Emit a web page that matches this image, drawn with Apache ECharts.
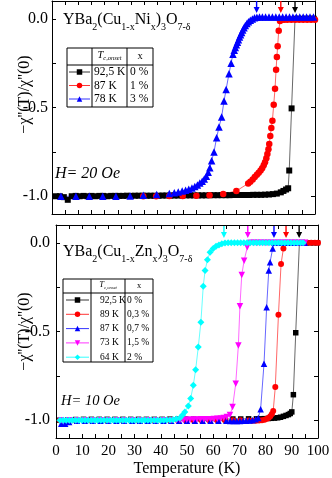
<!DOCTYPE html>
<html>
<head>
<meta charset="utf-8">
<script src="https://cdn.jsdelivr.net/npm/echarts@6/dist/echarts.min.js"></script>
<style>
  html, body { margin: 0; padding: 0; background: #fff; }
  #chart { width: 332px; height: 478px; }
</style>
</head>
<body>
<div id="chart"></div>
<script>
// ---- data: YBa2(Cu1-xNix)3O7-d, H = 20 Oe ----
var niPure = [[1.5,-1.0],[3,-1.0],[4.5,-1.005],[6,-1.02],[7.5,-1.0],[9,-0.998],[10.5,-1.0],[12,-0.998],[13.5,-1.0],
  [15,-0.998],[16.5,-1.0],[18,-0.998],[19.5,-0.998],[21,-1.0],[22.5,-0.998],[24,-0.998],[25.5,-0.998],[27,-0.998],
  [28.5,-0.997],[30,-0.998],[31.5,-0.997],[33,-0.997],[34.5,-0.997],[36,-0.997],[37.5,-0.997],[39,-0.997],[40.5,-0.997],
  [42,-0.996],[43.5,-0.996],[45,-0.996],[46.5,-0.996],[48,-0.996],[49.5,-0.995],[51,-0.995],[52.5,-0.995],[54,-0.995],
  [55.5,-0.995],[57,-0.995],[58.5,-0.995],[60,-0.994],[61.5,-0.994],[63,-0.994],[64.5,-0.994],[66,-0.994],[67.5,-0.994],
  [69,-0.993],[70.5,-0.993],[72,-0.993],[73.5,-0.993],[75,-0.993],[76.5,-0.992],[78,-0.992],[79.5,-0.992],[81,-0.991],
  [82.5,-0.99],[84,-0.988],[85.5,-0.985],[87,-0.978],[88,-0.97],[89,-0.962],[89.8,-0.955],[90.2,-0.855],[91.1,-0.505],
  [92.4,0.0],[93.5,0.0],[95,0.0],[96.5,0.0],[98,0.0],[99.5,0.0]];
var niOne = [[34.7,-1.0],[39.6,-1.0],[44.6,-0.999],[49.7,-0.998],[54.9,-0.997],[59.9,-0.995],[65.1,-0.988],[70.1,-0.97],
  [74.6,-0.928],[75.4,-0.918],[76.3,-0.905],[77.1,-0.892],[77.9,-0.879],[78.6,-0.867],[79.3,-0.855],[79.9,-0.842],
  [80.5,-0.826],[81,-0.808],[81.5,-0.786],[81.9,-0.762],[82.3,-0.735],[82.6,-0.705],[83,-0.66],[83.4,-0.615],
  [83.8,-0.574],[84.3,-0.484],[84.8,-0.394],[85.2,-0.288],[85.5,-0.215],[85.8,-0.155],[86.2,-0.068],[86.7,-0.012],
  [87.4,-0.005],[88.3,-0.005],[89.5,-0.005],[91,-0.005],[92.5,-0.005],[94,-0.005],[95.5,-0.005],[97,-0.005],
  [98.5,-0.005],[100,-0.005]];
var niThree = [[3.4,-1.0],[9.1,-1.0],[14.2,-1.0],[19.3,-1.0],[24.3,-1.0],[29.7,-0.998],[34.7,-0.995],[39.8,-0.99],
  [44.6,-0.985],[46.5,-0.98],[48,-0.976],[49.5,-0.97],[50.8,-0.966],[52,-0.96],[53.2,-0.953],[54.3,-0.945],[55.3,-0.936],
  [56.2,-0.926],[57.1,-0.915],[57.9,-0.903],[58.7,-0.888],[59.4,-0.865],[60,-0.84],[60.7,-0.8],[61.6,-0.75],[62.6,-0.67],
  [63.5,-0.61],[64.5,-0.553],[65.4,-0.464],[66.2,-0.398],[67.3,-0.31],[68.1,-0.25],[68.8,-0.2],[69.3,-0.178],
  [69.7,-0.162],[70.1,-0.146],[70.5,-0.132],[70.9,-0.118],[71.3,-0.103],[71.7,-0.09],[72.1,-0.077],[72.5,-0.064],
  [73,-0.05],[73.5,-0.038],[74.1,-0.027],[74.7,-0.017],[75.4,-0.008],[76.2,-0.001],[77,0.005],[77.9,0.009],[78.9,0.01],
  [80,0.01],[81.2,0.01],[82.5,0.01],[83.8,0.01],[85.1,0.01],[86.4,0.01],[87.7,0.01],[89,0.01],[90.3,0.01],[91.6,0.01],
  [92.9,0.01],[94.2,0.01],[95.5,0.01],[96.8,0.01],[98.1,0.01],[99.4,0.01]];
var niArrowT = [92.4, 87, 77.8];
var niLegendTc = ['92,5 K', '87 K', '78 K'];
var niLegendX = ['0 %', '1 %', '3 %'];

// ---- data: YBa2(Cu1-xZnx)3O7-d, H = 10 Oe ----
var znPure = [[1.5,-1.0],[4.5,-0.998],[7.5,-0.996],[10.5,-0.995],[13.5,-0.995],[16.5,-0.995],[19.5,-0.995],[22.5,-0.995],
  [25.5,-0.995],[28.5,-0.995],[31.5,-0.995],[34.5,-0.995],[37.5,-0.995],[40.5,-0.995],[43.5,-0.994],[46.5,-0.994],
  [49.5,-0.994],[52.5,-0.994],[55.5,-0.994],[58.5,-0.994],[61.5,-0.993],[64.5,-0.993],[67.5,-0.993],[70.5,-0.993],
  [73.5,-0.992],[76.5,-0.992],[78,-0.992],[79.5,-0.991],[81,-0.99],[82.2,-0.989],[83.4,-0.988],[84.6,-0.986],
  [85.7,-0.983],[86.8,-0.978],[87.8,-0.973],[88.7,-0.968],[89.4,-0.962],[90,-0.953],[90.6,-0.856],[91.5,-0.507],
  [92.9,0.0],[94.2,0.0],[95.6,0.0],[97,0.0],[98.4,0.0],[99.8,0.0]];
var znPt3 = [[1.5,-1.0],[4.5,-1.0],[7.5,-1.0],[10.5,-1.0],[13.5,-1.0],[16.5,-1.0],[19.5,-1.0],[22.5,-1.0],[25.5,-1.0],
  [28.5,-1.0],[31.5,-1.0],[34.5,-1.0],[37.5,-1.0],[40.5,-1.0],[43.5,-1.0],[46.5,-1.0],[49.5,-1.0],[52.5,-1.0],
  [55.5,-1.0],[58.5,-1.0],[61.5,-1.0],[64.5,-1.0],[67.5,-1.0],[70.5,-1.0],[73.5,-1.002],[75,-1.003],[76.3,-1.003],
  [77.5,-1.002],[78.6,-1.0],[79.6,-0.997],[80.5,-0.992],[81.2,-0.986],[81.8,-0.978],[82.4,-0.965],[82.9,-0.948],
  [83.7,-0.813],[84.9,-0.406],[85.9,-0.12],[86.8,-0.032],[87.7,0.0],[89,0.0],[90.4,0.0],[91.8,0.0],[93.2,0.0],
  [94.6,0.0],[96,0.0],[97.4,0.0],[98.8,0.0],[100,0.0]];
var znPt7 = [[2,-1.02],[3.5,-1.02],[5,-1.01],[8,-1.003],[11,-1.003],[14,-1.003],[17,-1.003],[20,-1.003],[23,-1.003],
  [26,-1.003],[29,-1.003],[32,-1.003],[35,-1.003],[38,-1.003],[41,-1.003],[44,-1.003],[47,-1.003],[50,-1.003],
  [53,-1.003],[56,-1.003],[59,-1.003],[62,-1.003],[65,-1.003],[66.5,-1.004],[67.8,-1.004],[69,-1.004],[70.2,-1.004],
  [71.4,-1.003],[72.6,-1.003],[73.8,-1.002],[75,-1.0],[76.2,-0.995],[77.2,-0.987],[78.1,-0.938],[79.4,-0.681],
  [80.4,-0.363],[81.2,-0.157],[81.7,-0.11],[82.7,-0.032],[83.2,0.0],[84.5,0.0],[85.8,0.0],[87.1,0.0],[88.4,0.0],
  [89.7,0.0],[91,0.0],[92.3,0.0],[93.6,0.0],[94.9,0.0]];
var znOnePt5 = [[2,-1.0],[5,-1.0],[8,-1.0],[11,-1.0],[14,-1.0],[17,-1.0],[20,-1.0],[23,-1.0],[26,-1.0],[29,-1.0],
  [32,-1.0],[35,-1.0],[38,-1.0],[41,-1.0],[44,-1.0],[46,-1.0],[47.3,-0.998],[48.6,-0.998],[49.9,-0.997],[51.2,-0.997],
  [52.5,-0.996],[53.8,-0.996],[55.1,-0.995],[56.4,-0.995],[57.7,-0.994],[59,-0.994],[60.3,-0.993],[61.6,-0.992],
  [62.8,-0.99],[64,-0.988],[65.2,-0.982],[66.4,-0.97],[67.4,-0.925],[68.6,-0.794],[69.6,-0.579],[70.2,-0.358],
  [70.9,-0.181],[71.8,-0.101],[73,-0.026],[74.3,0.0],[75.6,0.0],[76.9,0.0],[78.2,0.0],[79.5,0.0],[80.8,0.0],
  [82.1,0.0],[83.4,0.0],[84.7,0.0],[86,0.0],[87.3,0.0],[88.6,0.0],[89.9,0.0],[91.2,0.0],[92.5,0.0],[93.8,0.0],[95,0.0]];
var znTwo = [[1.5,-1.0],[2.7,-1.0],[3.9,-1.0],[5.1,-1.0],[6.3,-1.0],[7.5,-1.0],[8.7,-1.0],[9.9,-1.0],[11.1,-1.0],
  [12.3,-1.0],[13.5,-1.0],[14.7,-1.0],[15.9,-1.0],[17.1,-1.0],[18.3,-1.0],[19.5,-1.0],[20.7,-1.0],[21.9,-1.0],
  [23.1,-1.0],[24.3,-1.0],[25.5,-1.0],[26.7,-1.0],[27.9,-1.0],[29.1,-1.0],[30.3,-1.0],[31.5,-1.0],[32.7,-1.0],
  [33.9,-1.0],[35.1,-1.0],[36.3,-1.0],[37.5,-1.0],[38.7,-1.0],[39.9,-1.0],[41.1,-1.0],[42.3,-0.999],[43.5,-0.998],
  [44.7,-0.997],[45.9,-0.993],[47.3,-0.987],[48.3,-0.97],[49.2,-0.953],[50.5,-0.92],[51.4,-0.878],[52.4,-0.803],
  [53.3,-0.715],[54.3,-0.588],[55.3,-0.448],[56.2,-0.245],[56.9,-0.157],[57.8,-0.096],[58.8,-0.054],[60,-0.032],
  [61.1,-0.02],[62.2,-0.012],[63.3,-0.006],[64.5,-0.002],[65.7,0.0],[66.9,0.0],[68.1,0.0],[69.3,0.0],[70.5,0.0],
  [71.7,0.0],[72.9,0.0],[74.1,0.0],[75.3,0.0],[76.5,0.0],[77.7,0.0],[78.9,0.0],[80.1,0.0],[81.3,0.0],[82.5,0.0],
  [83.7,0.0],[84.9,0.0],[86.1,0.0],[87.3,0.0],[88.5,0.0],[89.7,0.0],[90.9,0.0],[92.1,0.0],[93.3,0.0],[94.3,0.0]];
var znArrowT = [92.8, 87.8, 83.2, 73.2, 64.1];
var znLegendTc = ['92,5 K', '89 K', '87 K', '73 K', '64 K'];
var znLegendX = ['0 %', '0,3 %', '0,7 %', '1,5 %', '2 %'];

// ---- axis ticks ----
var xLabelVals = [0, 10, 20, 30, 40, 50, 60, 70, 80, 90, 100];
var xTickVals = [0, 5, 10, 15, 20, 25, 30, 35, 40, 45, 50, 55, 60, 65, 70, 75, 80, 85, 90, 95, 100];
var yLabelVals = [-1.0, -0.5, 0.0];
var yTickVals = [-1.0, -0.75, -0.5, -0.25, 0.0];

var FONT = 'Liberation Serif';
var ARROW = 'path://M2.3,0 L3.7,0 L3.7,6 L6,6 L3,12 L0,6 L2.3,6 Z';
var YNAME = '\u2212\u03c7\'\'(T)/\u03c7\'\'(0)';

function xAxisPair(g, withLabels) {
  var base = {
    gridIndex: g, type: 'value', min: 0, max: 100,
    axisLine: { show: true, onZero: false, lineStyle: { color: '#000', width: 1 } },
    axisTick: { show: true, inside: true, length: 4, customValues: xTickVals, lineStyle: { color: '#000' } },
    splitLine: { show: false }
  };
  var bottom = Object.assign({}, base, {
    position: 'bottom',
    axisLabel: { show: withLabels, customValues: xLabelVals, margin: 6, color: '#000', fontFamily: FONT, fontSize: 15 },
    name: withLabels ? 'Temperature (K)' : '',
    nameLocation: 'middle', nameGap: 23, nameMoveOverlap: false,
    nameTextStyle: { color: '#000', fontFamily: FONT, fontSize: 16 }
  });
  var top = Object.assign({}, base, { position: 'top', axisLabel: { show: false } });
  return [bottom, top];
}

function yAxisPair(g, labelMargin, nameGap, namePad) {
  var base = {
    gridIndex: g, type: 'value', min: -1.1, max: 0.1,
    axisLine: { show: true, onZero: false, lineStyle: { color: '#000', width: 1 } },
    axisTick: { show: true, inside: true, length: 4, customValues: yTickVals, lineStyle: { color: '#000' } },
    splitLine: { show: false }
  };
  var left = Object.assign({}, base, {
    position: 'left',
    axisLabel: {
      customValues: yLabelVals, margin: labelMargin, color: '#000', fontFamily: FONT, fontSize: 16,
      formatter: function (v) { return v.toFixed(1); }
    },
    name: YNAME, nameLocation: 'middle', nameGap: nameGap, nameMoveOverlap: false,
    nameTextStyle: { color: '#000', fontFamily: FONT, fontSize: 16, padding: namePad }
  });
  var right = Object.assign({}, base, { position: 'right', axisLabel: { show: false } });
  return [left, right];
}

function curve(name, pts, color, symbol, size, rotate, axisIdx, arrowT, arrowY) {
  return {
    name: name, type: 'line', xAxisIndex: axisIdx, yAxisIndex: axisIdx,
    data: pts, symbol: symbol, symbolSize: size, symbolRotate: rotate, showAllSymbol: true,
    itemStyle: { color: color }, lineStyle: { color: color, width: 0.6 },
    markPoint: {
      symbol: ARROW, symbolSize: [6, 12], silent: true, animation: false,
      label: { show: false }, itemStyle: { color: color },
      data: [{ coord: [arrowT, arrowY] }]
    }
  };
}

// legend table marks
function mark(kind, cx, cy, s, color) {
  var h = s / 2;
  if (kind === 'rect') return { type: 'rect', shape: { x: cx - h, y: cy - h, width: s, height: s }, style: { fill: color } };
  if (kind === 'circle') return { type: 'circle', shape: { cx: cx, cy: cy, r: h }, style: { fill: color } };
  var pts;
  if (kind === 'up') pts = [[cx, cy - h], [cx + h, cy + h], [cx - h, cy + h]];
  else if (kind === 'down') pts = [[cx - h, cy - h], [cx + h, cy - h], [cx, cy + h]];
  else pts = [[cx, cy - h], [cx + h, cy], [cx, cy + h], [cx - h, cy]];
  return { type: 'polygon', shape: { points: pts }, style: { fill: color } };
}

function table(box, colA, colB, headY, rowYs, tcs, xs, kinds, colors, fs, lineX, tcX, xX, markSize) {
  var els = [];
  els.push({ type: 'rect', shape: box, style: { fill: 'none', stroke: '#000', lineWidth: 1 } });
  els.push({ type: 'line', shape: { x1: colA, y1: box.y, x2: colA, y2: box.y + box.height }, style: { stroke: '#000', lineWidth: 1 } });
  els.push({ type: 'line', shape: { x1: colB, y1: box.y, x2: colB, y2: box.y + box.height }, style: { stroke: '#000', lineWidth: 1 } });
  els.push({ type: 'line', shape: { x1: box.x, y1: headY, x2: box.x + box.width, y2: headY }, style: { stroke: '#000', lineWidth: 1 } });
  var hy = (box.y + headY) / 2;
  els.push({
    type: 'text', x: (colA + colB) / 2, y: hy - 1,
    style: {
      text: '{t|T}{c|c,onset}', align: 'center', verticalAlign: 'middle', fill: '#000',
      rich: {
        t: { fontFamily: FONT, fontStyle: 'italic', fontSize: fs - 1 },
        c: { fontFamily: FONT, fontStyle: 'italic', fontSize: fs - 5, padding: [6, 0, 0, 0] }
      }
    }
  });
  els.push({ type: 'text', x: (colB + box.x + box.width) / 2, y: hy, style: { text: 'x', align: 'center', verticalAlign: 'middle', fill: '#000', fontFamily: FONT, fontSize: fs - 1 } });
  for (var i = 0; i < rowYs.length; i++) {
    var y = rowYs[i];
    els.push({ type: 'line', shape: { x1: lineX[0], y1: y, x2: lineX[1], y2: y }, style: { stroke: colors[i], lineWidth: 0.8 } });
    els.push(mark(kinds[i], (lineX[0] + lineX[1]) / 2, y, markSize, colors[i]));
    els.push({ type: 'text', x: tcX, y: y, style: { text: tcs[i], verticalAlign: 'middle', fill: '#000', fontFamily: FONT, fontSize: fs } });
    els.push({ type: 'text', x: xX, y: y, style: { text: xs[i], verticalAlign: 'middle', fill: '#000', fontFamily: FONT, fontSize: fs } });
  }
  return els;
}

function formula(x, y, dopant, fs) {
  return {
    type: 'text', x: x, y: y,
    style: {
      text: 'YBa{s|2}(Cu{s|1-x}' + dopant + '{s|x}){s|3}O{s|7-\u03b4}',
      fontFamily: FONT, fontSize: fs, fill: '#000', verticalAlign: 'top',
      rich: { s: { fontFamily: FONT, fontSize: 10, padding: [14, 0, 0, 0] } }
    }
  };
}

var xs0 = xAxisPair(0, false), xs1 = xAxisPair(1, true);
var ys0 = yAxisPair(0, 4, 19, [0, 0, 0, 26]), ys1 = yAxisPair(1, 6, 23, [0, 0, 0, 0]);

var ARROW_Y = 0.066;
var series = [
  curve('Ni 0 %', niPure, '#000000', 'rect', 6, 0, 0, niArrowT[0], ARROW_Y),
  curve('Ni 1 %', niOne, '#ff0000', 'circle', 6.5, 0, 0, niArrowT[1], ARROW_Y),
  curve('Ni 3 %', niThree, '#0000ff', 'triangle', 7.5, 0, 0, niArrowT[2], ARROW_Y),
  curve('Zn 0 %', znPure, '#000000', 'rect', 5.5, 0, 2, znArrowT[0], 0.06),
  curve('Zn 0,3 %', znPt3, '#ff0000', 'circle', 6, 0, 2, znArrowT[1], 0.06),
  curve('Zn 0,7 %', znPt7, '#0000ff', 'triangle', 6.5, 0, 2, znArrowT[2], 0.06),
  curve('Zn 1,5 %', znOnePt5, '#ff00ff', 'triangle', 6.5, 180, 2, znArrowT[3], 0.06),
  curve('Zn 2 %', znTwo, '#00ffff', 'diamond', 7, 0, 2, znArrowT[4], 0.06)
];

var graphics = []
  .concat(table({ x: 67, y: 48, width: 86, height: 59 }, 92, 127, 65, [72, 85.5, 99],
    niLegendTc, niLegendX, ['rect', 'circle', 'up'], ['#000', '#ff0000', '#0000ff'], 11.5, [69, 90], 94, 130, 5.5))
  .concat(table({ x: 63, y: 279, width: 90, height: 83 }, 91, 125, 293, [300, 314.3, 328.6, 342.9, 357.2],
    znLegendTc, znLegendX, ['rect', 'circle', 'up', 'down', 'diamond'],
    ['#000', '#ff0000', '#0000ff', '#ff00ff', '#00ffff'], 9.5, [66, 89], 100, 127, 5.5));
graphics.push(formula(63, 8, 'Ni', 16));
graphics.push(formula(63, 240, 'Zn', 16));
graphics.push({ type: 'text', x: 55, y: 174, style: { text: 'H= 20 Oe', fontFamily: FONT, fontStyle: 'italic', fontSize: 16, fill: '#000', verticalAlign: 'middle' } });
graphics.push({ type: 'text', x: 61, y: 401, style: { text: 'H= 10 Oe', fontFamily: FONT, fontStyle: 'italic', fontSize: 14.5, fill: '#000', verticalAlign: 'middle' } });

var chart = echarts.init(document.getElementById('chart'));
chart.setOption({
  animation: false,
  backgroundColor: '#fff',
  grid: [
    { left: 52, top: 1, width: 263, height: 213, outerBoundsMode: 'none' },
    { left: 56, top: 225, width: 262, height: 213, outerBoundsMode: 'none' }
  ],
  xAxis: [xs0[0], xs0[1], xs1[0], xs1[1]],
  yAxis: [ys0[0], ys0[1], ys1[0], ys1[1]],
  series: series,
  graphic: graphics
});
</script>
</body>
</html>
